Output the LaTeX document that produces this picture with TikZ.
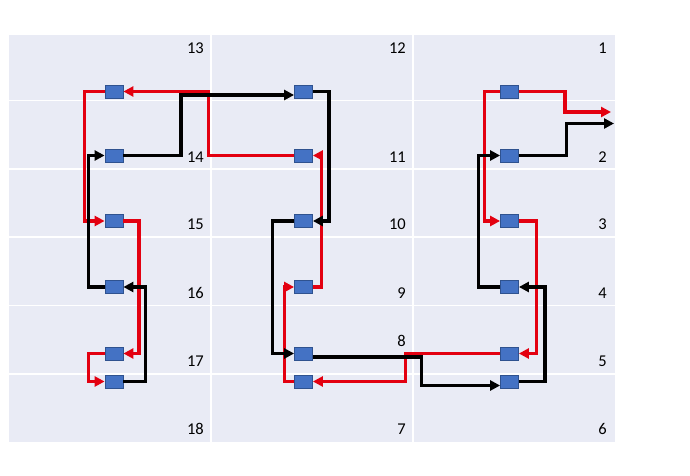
\documentclass[tikz,border=0pt]{standalone}
\usepackage{fontspec}
\setmainfont{Carlito}
\usetikzlibrary{arrows.meta}

\definecolor{cellbg}{HTML}{E9EBF5}
\definecolor{boxfill}{HTML}{4472C4}
\definecolor{boxline}{HTML}{2F528F}
\definecolor{redpath}{HTML}{E30010}

\tikzset{
  slot/.style={draw=boxline,fill=boxfill,line width=0.8pt,minimum width=18pt,minimum height=13pt,inner sep=0pt},
  cellnum/.style={anchor=east,inner sep=0pt,font=\fontsize{16.5}{18}\selectfont},
  redrun/.style={draw=redpath,line width=3.2pt,-{Triangle[length=10pt,width=10pt]}},
  blackrun/.style={draw=black,line width=3.4pt,-{Triangle[length=10pt,width=10pt]}}
}

\begin{document}
\begin{tikzpicture}[x=1pt,y=-1pt]

\useasboundingbox (0,0) rectangle (690,476);

% Table
\fill [cellbg] (9,35) rectangle (615,442);
\foreach \x in {211,413}
  \draw [white,line width=1.4pt] (\x,35) -- (\x,442);
\foreach \y in {100.5,169,237,305.5,374}
  \draw [white,line width=1.4pt] (9,\y) -- (615,\y);

% Cell numbers
\foreach \n/\x/\y in {1/607/48,2/607/157,3/607/224,4/607/293,5/607/361,6/607/429,
                      7/406/429,8/406/341,9/406/293,10/406/224,11/406/157,12/406/48,
                      13/204/48,14/204/157,15/204/224,16/204/293,17/204/361,18/204/429}
  \node [cellnum] (num\n) at (\x,\y) {\n};

% Boxes
\foreach \n/\x/\y in {1/509.5/91.5,2/509.5/155.5,3/509.5/221,4/509.5/287,5/509.5/353.5,6/509.5/381.5,
                      7/303.5/381.5,8/303.5/353.5,9/303.5/287,10/303.5/221,11/303.5/155.5,12/303.5/91.5,
                      13/114/91.5,14/114/155.5,15/114/221,16/114/287,17/114/353.5,18/114/381.5}
  \node [slot] (s\n) at (\x,\y) {};

% Free ends
\coordinate (redout) at (611,112);
\coordinate (blackout) at (614,123.5);

% Red runs
\draw [redrun] (s1.east) -- ++(46,0) |- (redout);
\draw [redrun] (s1.west) -- ++(-16,0) |- (s3.west);
\draw [redrun] (s3.east) -- ++(17.5,0) |- (s5.east);
\draw [redrun] (s5.west) -- ++(-95,0) |- (s7.east);
\draw [redrun] (s7.west) -- ++(-10,0) |- (s9.west);
\draw [redrun] (s9.east) -- ++(8.5,0) |- (s11.east);
\draw [redrun] (s11.west) -- ++(-86,0) |- (s13.east);
\draw [redrun] (s13.west) -- ++(-20,0) |- (s15.west);
\draw [redrun] (s15.east) -- ++(15.5,0) |- (s17.east);
\draw [redrun] (s17.west) -- ++(-16,0) |- (s18.west);

% Black runs
\draw [blackrun] (s18.east) -- ++(22,0) |- (s16.east);
\draw [blackrun] (s16.west) -- ++(-16,0) |- (s14.west);
\draw [blackrun] (s14.east) -- ++(57.5,0) |- ([yshift=-3.5pt]s12.west);
\draw [blackrun] (s12.east) -- ++(16,0) |- (s10.east);
\draw [blackrun] (s10.west) -- ++(-21.5,0) |- (s8.west);
\draw [blackrun] ([yshift=-3.5pt]s8.east) -- ++(108.5,0) |- ([yshift=-4pt]s6.west);
\draw [blackrun] (s6.east) -- ++(26,0) |- (s4.east);
\draw [blackrun] (s4.west) -- ++(-21.5,0) |- (s2.west);
\draw [blackrun] (s2.east) -- ++(47.5,0) |- (blackout);

\end{tikzpicture}
\end{document}
